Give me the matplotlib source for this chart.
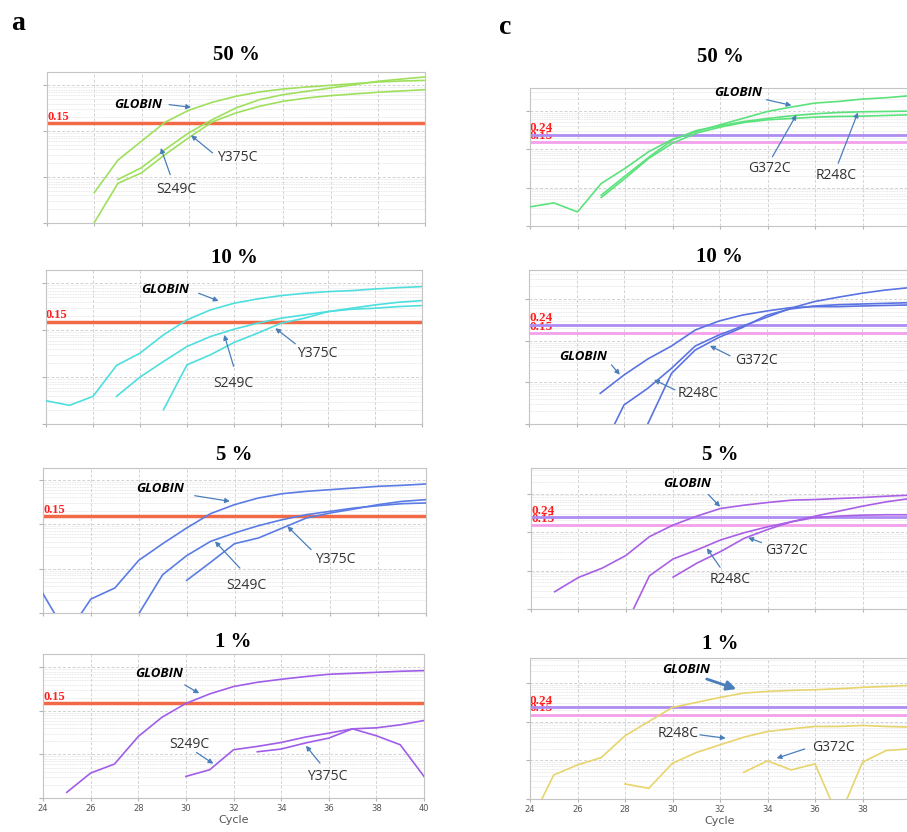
import matplotlib.pyplot as plt
from matplotlib.ticker import LogLocator, MultipleLocator, NullFormatter
from matplotlib.transforms import blended_transform_factory

# amplification curves: (first cycle, delta Rn for each following cycle)
a50_globin = (26, [0.0046, 0.0234, 0.0607, 0.157, 0.286, 0.427, 0.577, 0.717, 0.832, 0.92, 1.0, 1.087, 1.18, 1.24, 1.28])
a50_s249c = (27, [0.0089, 0.016, 0.040, 0.092, 0.179, 0.321, 0.488, 0.627, 0.741, 0.875, 1.03, 1.22, 1.37, 1.52])
a50_y375c = (26, [0.00102, 0.0073, 0.0124, 0.031, 0.072, 0.16, 0.25, 0.35, 0.449, 0.53, 0.596, 0.648, 0.705, 0.753, 0.805])

a10_globin = (24, [0.00313, 0.0025, 0.00388, 0.0177, 0.0324, 0.0796, 0.166, 0.271, 0.375, 0.464, 0.547, 0.612, 0.665, 0.698, 0.757, 0.809, 0.849])
a10_s249c = (27, [0.00388, 0.01, 0.0215, 0.0449, 0.0733, 0.105, 0.141, 0.18, 0.212, 0.249, 0.28, 0.294, 0.319, 0.335])
a10_y375c = (29, [0.00202, 0.0183, 0.0299, 0.0547, 0.0863, 0.141, 0.18, 0.249, 0.294, 0.346, 0.394, 0.428])

a5_globin = (24, [0.00272, 0.000325, 0.00206, 0.00365, 0.0153, 0.0363, 0.0817, 0.172, 0.274, 0.387, 0.484, 0.546, 0.596, 0.649, 0.708, 0.745, 0.799])
a5_s249c = (28, [0.00096, 0.00728, 0.0195, 0.0409, 0.0631, 0.0922, 0.126, 0.163, 0.194, 0.23, 0.26, 0.288, 0.299])
a5_y375c = (30, [0.00542, 0.0138, 0.0363, 0.0487, 0.0817, 0.137, 0.178, 0.219, 0.274, 0.325, 0.355])

a1_globin = (25, [0.00135, 0.00374, 0.00601, 0.0258, 0.0716, 0.148, 0.245, 0.361, 0.453, 0.531, 0.611, 0.692, 0.729, 0.768, 0.81, 0.839])
a1_s249c = (30, [0.00313, 0.00445, 0.0128, 0.0153, 0.0188, 0.0249, 0.0308, 0.0387, 0.0408, 0.0478, 0.0601])
a1_y375c = (33, [0.0115, 0.0133, 0.0182, 0.0237, 0.0387, 0.0268, 0.0167, 0.00313])

c50_globin = (24, [0.00315, 0.004, 0.00233, 0.0128, 0.0316, 0.0863, 0.182, 0.288, 0.431, 0.643, 0.961, 1.25, 1.59, 1.75, 2.02, 2.19, 2.47])
c50_g372c = (27, [0.00552, 0.0173, 0.0578, 0.143, 0.261, 0.374, 0.495, 0.582, 0.63, 0.683, 0.711, 0.725, 0.755, 0.786])
c50_r248c = (27, [0.00635, 0.02, 0.0614, 0.174, 0.306, 0.405, 0.526, 0.63, 0.74, 0.835, 0.905, 0.942, 0.961, 0.98])

c10_globin = (27, [0.00545, 0.015, 0.0363, 0.0745, 0.18, 0.296, 0.413, 0.515, 0.619, 0.655, 0.655, 0.68, 0.70, 0.72])
c10_r248c = (27, [0.0002, 0.00286, 0.00718, 0.0217, 0.0745, 0.137, 0.225, 0.363, 0.597, 0.863, 1.1, 1.37, 1.64, 1.87])
c10_g372c = (29, [0.001, 0.0164, 0.0597, 0.12, 0.209, 0.406, 0.575, 0.679, 0.731, 0.759, 0.787, 0.817])

c5_globin = (25, [0.00281, 0.00659, 0.0115, 0.0244, 0.0757, 0.152, 0.259, 0.409, 0.499, 0.585, 0.673, 0.7, 0.743, 0.788, 0.853, 0.906])
c5_r248c = (28, [0.000385, 0.00728, 0.02, 0.0342, 0.0621, 0.0961, 0.137, 0.185, 0.239, 0.259, 0.275, 0.281, 0.281])
c5_g372c = (30, [0.00673, 0.0155, 0.031, 0.0686, 0.117, 0.185, 0.259, 0.349, 0.47, 0.609, 0.743])

c1_globin = (24, [0.00024, 0.0042, 0.00762, 0.0118, 0.0431, 0.101, 0.235, 0.315, 0.425, 0.551, 0.608, 0.646, 0.672, 0.713, 0.772, 0.82, 0.87])
c1_r248c = (28, [0.00245, 0.00189, 0.00843, 0.0159, 0.0252, 0.0398, 0.0558, 0.0655, 0.0752, 0.0752, 0.0799, 0.0752, 0.0723])
c1_g372c = (33, [0.00492, 0.00969, 0.00566, 0.00809, 0.000316, 0.00895, 0.018, 0.0198])

thr_a = [0.15]
thr_c = [0.24, 0.15]

W, H = 907, 832
fig = plt.figure(figsize=(W / 100, H / 100), dpi=100)

SERIF = 'Liberation Serif'
ARROW = '#4a7ebb'


def panel(box, ylim, color, curves, thresholds, title, title_y, notes, bottom_row=False):
    x0, y0, x1, y1 = box
    ax = fig.add_axes([x0 / W, 1 - y1 / H, (x1 - x0) / W, (y1 - y0) / H])
    ax.set_yscale('log')
    ax.set_xlim(24, 40)
    ax.set_ylim(*ylim)

    ax.xaxis.set_major_locator(MultipleLocator(2))
    ax.yaxis.set_major_locator(LogLocator(base=10, numticks=10))
    ax.yaxis.set_minor_locator(LogLocator(base=10, subs=range(2, 10), numticks=20))
    ax.yaxis.set_minor_formatter(NullFormatter())
    ax.grid(which='major', color='#d2d2d2', ls=(0, (3, 2)), lw=0.7)
    ax.grid(which='minor', axis='y', color='#e0e0e0', ls=(0, (1, 1)), lw=0.6)
    ax.set_axisbelow(True)
    ax.tick_params(axis='y', which='major', length=3, color='#b5b5b5', labelleft=False)
    ax.tick_params(axis='y', which='minor', length=0)
    ax.tick_params(axis='x', length=2, color='#b5b5b5', labelbottom=bottom_row,
                   labelsize=6, labelcolor='#555555', pad=2)
    for s in ax.spines.values():
        s.set_color('#c4c4c4')
        s.set_linewidth(0.8)

    for start, vals in curves:
        ax.plot(range(start, start + len(vals)), vals, color=color, lw=1.2, zorder=3)

    trans = blended_transform_factory(ax.transAxes, ax.transData)
    if len(thresholds) == 1:
        styles = [('#f26a45', 2.5)]
        fsize = 9
    else:
        styles = [('#ae8cf2', 2.0), ('#f3a0ea', 2.0)]
        fsize = 9.5
    for level, (lc, lw) in zip(thresholds, styles):
        ax.axhline(level, color=lc, lw=lw, zorder=2)
        ax.text(0.0, level * 1.03, f'{level:.2f}', transform=trans, ha='left', va='bottom',
                color='#ff1f1f', fontsize=fsize, fontweight='bold', family=SERIF, zorder=1.5)

    for label, txt, start, tip, *big in notes:
        if label == 'GLOBIN':
            ax.text(*txt, label, transform=ax.transAxes, ha='center', va='center',
                    fontsize=9.5, fontweight='bold', fontstyle='italic', family='Open Sans',
                    color='black', zorder=5)
        else:
            ax.text(*txt, label, transform=ax.transAxes, ha='center', va='center',
                    fontsize=10, family='Open Sans', color='#333333', zorder=5)
        if big:
            props = dict(arrowstyle='-|>', color=ARROW, lw=2.0, mutation_scale=14,
                         shrinkA=0, shrinkB=0)
        else:
            props = dict(arrowstyle='-|>', color=ARROW, lw=0.9, mutation_scale=7,
                         shrinkA=0, shrinkB=0)
        ax.annotate('', xy=tip, xytext=start, xycoords='axes fraction',
                    textcoords='axes fraction', arrowprops=props, zorder=5)

    fig.text(((x0 + x1) / 2) / W, 1 - title_y / H, title, ha='center', va='center',
             fontsize=15, fontweight='bold', family=SERIF)
    if bottom_row:
        ax.set_xlabel('Cycle', fontsize=8, color='#555555', labelpad=2)
        # the right column runs past the figure edge; drop the last cycle label there
        if x1 > W:
            ax.set_xticks(range(24, 40, 2))
    return ax


panel((47, 72, 425, 223), (0.001, 1.95), '#9ee05c', [a50_globin, a50_s249c, a50_y375c], thr_a,
      '50 %', 55,
      [('GLOBIN', (0.240, 0.788), (0.323, 0.784), (0.381, 0.766)),
       ('Y375C', (0.504, 0.437), (0.438, 0.464), (0.381, 0.581)),
       ('S249C', (0.341, 0.221), (0.326, 0.320), (0.301, 0.497))])

panel((46, 270, 422, 424), (0.001, 1.92), '#4fdede', [a10_globin, a10_s249c, a10_y375c], thr_a,
      '10 %', 258,
      [('GLOBIN', (0.316, 0.875), (0.406, 0.849), (0.459, 0.799)),
       ('S249C', (0.499, 0.266), (0.499, 0.374), (0.474, 0.579)),
       ('Y375C', (0.721, 0.460), (0.663, 0.521), (0.610, 0.622))])

panel((43, 468, 426, 613), (0.001, 1.83), '#5a7ce4', [a5_globin, a5_s249c, a5_y375c], thr_a,
      '5 %', 455,
      [('GLOBIN', (0.305, 0.857), (0.396, 0.809), (0.488, 0.770)),
       ('S249C', (0.531, 0.189), (0.514, 0.310), (0.449, 0.494)),
       ('Y375C', (0.762, 0.368), (0.700, 0.437), (0.638, 0.598))])

panel((43, 654, 424, 798), (0.001, 2.02), '#a05de8', [a1_globin, a1_s249c, a1_y375c], thr_a,
      '1 %', 642,
      [('GLOBIN', (0.305, 0.866), (0.372, 0.785), (0.410, 0.727)),
       ('S249C', (0.383, 0.370), (0.403, 0.316), (0.447, 0.238)),
       ('Y375C', (0.747, 0.150), (0.727, 0.242), (0.690, 0.363))], bottom_row=True)

panel((530, 88, 910, 226), (0.001, 3.92), '#5be27c', [c50_globin, c50_g372c, c50_r248c], thr_c,
      '50 %', 57,
      [('GLOBIN', (0.548, 0.964), (0.622, 0.915), (0.688, 0.874)),
       ('G372C', (0.631, 0.417), (0.638, 0.502), (0.701, 0.806)),
       ('R248C', (0.806, 0.369), (0.811, 0.454), (0.863, 0.823))])

panel((529, 270, 909, 424), (0.001, 4.97), '#5b73e2', [c10_globin, c10_r248c, c10_g372c], thr_c,
      '10 %', 257,
      [('GLOBIN', (0.143, 0.438), (0.217, 0.384), (0.239, 0.320)),
       ('R248C', (0.445, 0.197), (0.384, 0.222), (0.329, 0.287)),
       ('G372C', (0.599, 0.413), (0.529, 0.443), (0.476, 0.508))])

panel((531, 468, 910, 609), (0.001, 4.61), '#a95fe6', [c5_globin, c5_r248c, c5_g372c], thr_c,
      '5 %', 455,
      [('GLOBIN', (0.411, 0.889), (0.468, 0.812), (0.499, 0.725)),
       ('R248C', (0.525, 0.207), (0.499, 0.296), (0.464, 0.431)),
       ('G372C', (0.674, 0.414), (0.608, 0.471), (0.573, 0.506))])

panel((530, 658, 910, 799), (0.001, 4.45), '#e8d46c', [c1_globin, c1_r248c, c1_g372c], thr_c,
      '1 %', 644,
      [('GLOBIN', (0.410, 0.917), (0.465, 0.851), (0.543, 0.780), True),
       ('R248C', (0.390, 0.462), (0.447, 0.455), (0.515, 0.431)),
       ('G372C', (0.798, 0.367), (0.723, 0.355), (0.649, 0.289))], bottom_row=True)

fig.text(18 / W, 1 - 24 / H, 'a', ha='center', va='center', fontsize=20, fontweight='bold', family=SERIF)
fig.text(505 / W, 1 - 27 / H, 'c', ha='center', va='center', fontsize=20, fontweight='bold', family=SERIF)

fig.savefig('out.png', dpi=100)
